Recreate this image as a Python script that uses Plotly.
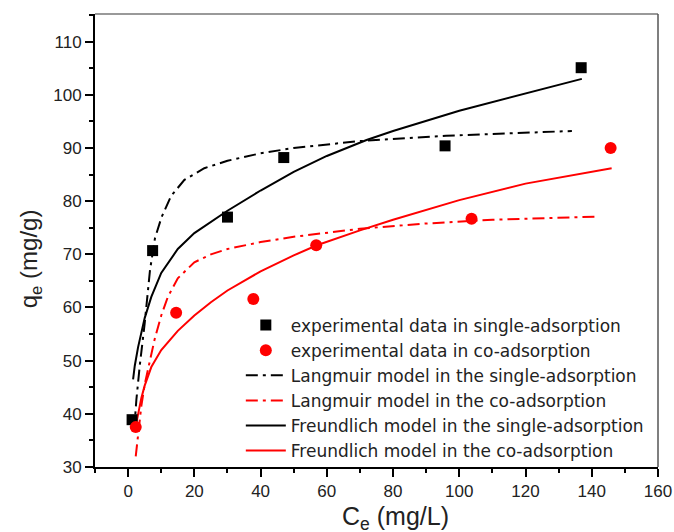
import plotly.graph_objects as go

# experimental points
single_ce = [1.2, 7.4, 30.0, 47.0, 95.7, 136.8]
single_qe = [38.9, 70.7, 77.0, 88.2, 90.4, 105.1]
co_ce = [2.3, 14.5, 37.8, 56.8, 103.7, 145.7]
co_qe = [37.5, 59.0, 61.6, 71.7, 76.7, 90.0]

# model curves
lang_single_ce = [1.8, 2.5, 3.5, 4.5, 5.0, 6.6, 8.1, 10.1, 13, 17, 23, 30, 40, 50, 70, 96, 115, 134]
lang_single_qe = [36.7, 42.7, 49.0, 54.0, 57.0, 67.0, 73.0, 77.0, 81.0, 84.0, 86.2, 87.6, 89.0, 90.0, 91.3, 92.3, 92.8, 93.2]
lang_co_ce = [2.3, 3, 4, 5, 6.5, 8, 10, 12, 15, 20, 25, 30, 40, 50, 70, 90, 110, 142]
lang_co_qe = [32.0, 36.0, 41.5, 45.5, 50.0, 54.0, 58.5, 62.0, 65.5, 68.5, 70.0, 71.0, 72.3, 73.3, 74.8, 75.8, 76.5, 77.1]
freu_single_ce = [1.5, 2, 3, 4, 5, 7, 10, 15, 20, 30, 40, 50, 60, 72, 80, 100, 120, 137]
freu_single_qe = [46.5, 49.0, 52.5, 55.5, 58.0, 62.0, 66.5, 71.0, 74.0, 78.2, 82.0, 85.5, 88.5, 91.5, 93.2, 97.0, 100.3, 103.0]
freu_co_ce = [2.5, 4, 5, 7, 10, 15, 20, 25, 30, 40, 50, 57, 70, 80, 100, 120, 146]
freu_co_qe = [38.3, 43.0, 45.3, 48.8, 52.0, 55.6, 58.5, 61.0, 63.2, 66.8, 69.8, 71.7, 74.5, 76.5, 80.2, 83.3, 86.2]

dashdot = "12px,5px,3px,5px"
fnt = "Arial, Liberation Sans, sans-serif"

fig = go.Figure()
fig.add_trace(go.Scatter(x=lang_single_ce, y=lang_single_qe, mode='lines', legendrank=3,
                         line={'color': 'black', 'width': 2, 'dash': dashdot},
                         name='Langmuir model in the single-adsorption'))
fig.add_trace(go.Scatter(x=lang_co_ce, y=lang_co_qe, mode='lines', legendrank=4,
                         line={'color': 'red', 'width': 2, 'dash': dashdot},
                         name='Langmuir model in the co-adsorption'))
fig.add_trace(go.Scatter(x=freu_single_ce, y=freu_single_qe, mode='lines', legendrank=5,
                         line={'color': 'black', 'width': 2},
                         name='Freundlich model in the single-adsorption'))
fig.add_trace(go.Scatter(x=freu_co_ce, y=freu_co_qe, mode='lines', legendrank=6,
                         line={'color': 'red', 'width': 2},
                         name='Freundlich model in the co-adsorption'))
fig.add_trace(go.Scatter(x=single_ce, y=single_qe, mode='markers', legendrank=1,
                         marker={'color': 'black', 'size': 11, 'symbol': 'square'},
                         name='experimental data in single-adsorption'))
fig.add_trace(go.Scatter(x=co_ce, y=co_qe, mode='markers', legendrank=2,
                         marker={'color': 'red', 'size': 12, 'symbol': 'circle'},
                         name='experimental data in co-adsorption'))

axis_common = dict(showline=True, linecolor='black', linewidth=2, mirror=False,
                   ticks='outside', ticklen=8, tickwidth=2, tickcolor='black',
                   showgrid=False, zeroline=False, automargin=False,
                   tickfont={'size': 17, 'color': '#222'},
                   minor=dict(ticks='outside', ticklen=4, tickwidth=2, tickcolor='black'))

fig.update_layout(
    width=674, height=532,
    margin=dict(l=95, r=16, t=14, b=65),
    paper_bgcolor='white', plot_bgcolor='white',
    font={'family': fnt, 'color': '#222'},
    showlegend=True,
    legend=dict(x=0.259, y=0.352, xanchor='left', yanchor='top',
                bgcolor='rgba(0,0,0,0)',
                font={'size': 17, 'color': '#222', 'family': 'DejaVu Sans, sans-serif'},
                tracegroupgap=0, itemwidth=40),
    xaxis=dict(range=[-10, 160], dtick=20, tick0=0, **axis_common),
    yaxis=dict(range=[30, 115.2], dtick=10, tick0=0, **axis_common),
)
fig.update_xaxes(minor_dtick=10)
fig.update_yaxes(minor_dtick=5)

# axis titles sit a bit off-centre in the original
fig.add_annotation(text='C<sub>e</sub> (mg/L)', xref='paper', yref='paper',
                   x=0.533, y=-0.113, xanchor='center', yanchor='middle',
                   showarrow=False, font={'size': 25, 'color': '#222'})
fig.add_annotation(text='q<sub>e</sub> (mg/g)', xref='paper', yref='paper',
                   x=-0.115, y=0.459, xanchor='center', yanchor='middle', textangle=-90,
                   showarrow=False, font={'size': 24, 'color': '#222'})

# thin frame on top and right
fig.add_shape(type='line', xref='paper', yref='paper', x0=0, x1=1, y0=1, y1=1,
              line={'color': '#777', 'width': 1.5})
fig.add_shape(type='line', xref='paper', yref='paper', x0=1, x1=1, y0=0, y1=1,
              line={'color': '#555', 'width': 1.5})

fig.write_html("out.html", config={'displayModeBar': False},
               post_script="document.body.style.margin='0';")
